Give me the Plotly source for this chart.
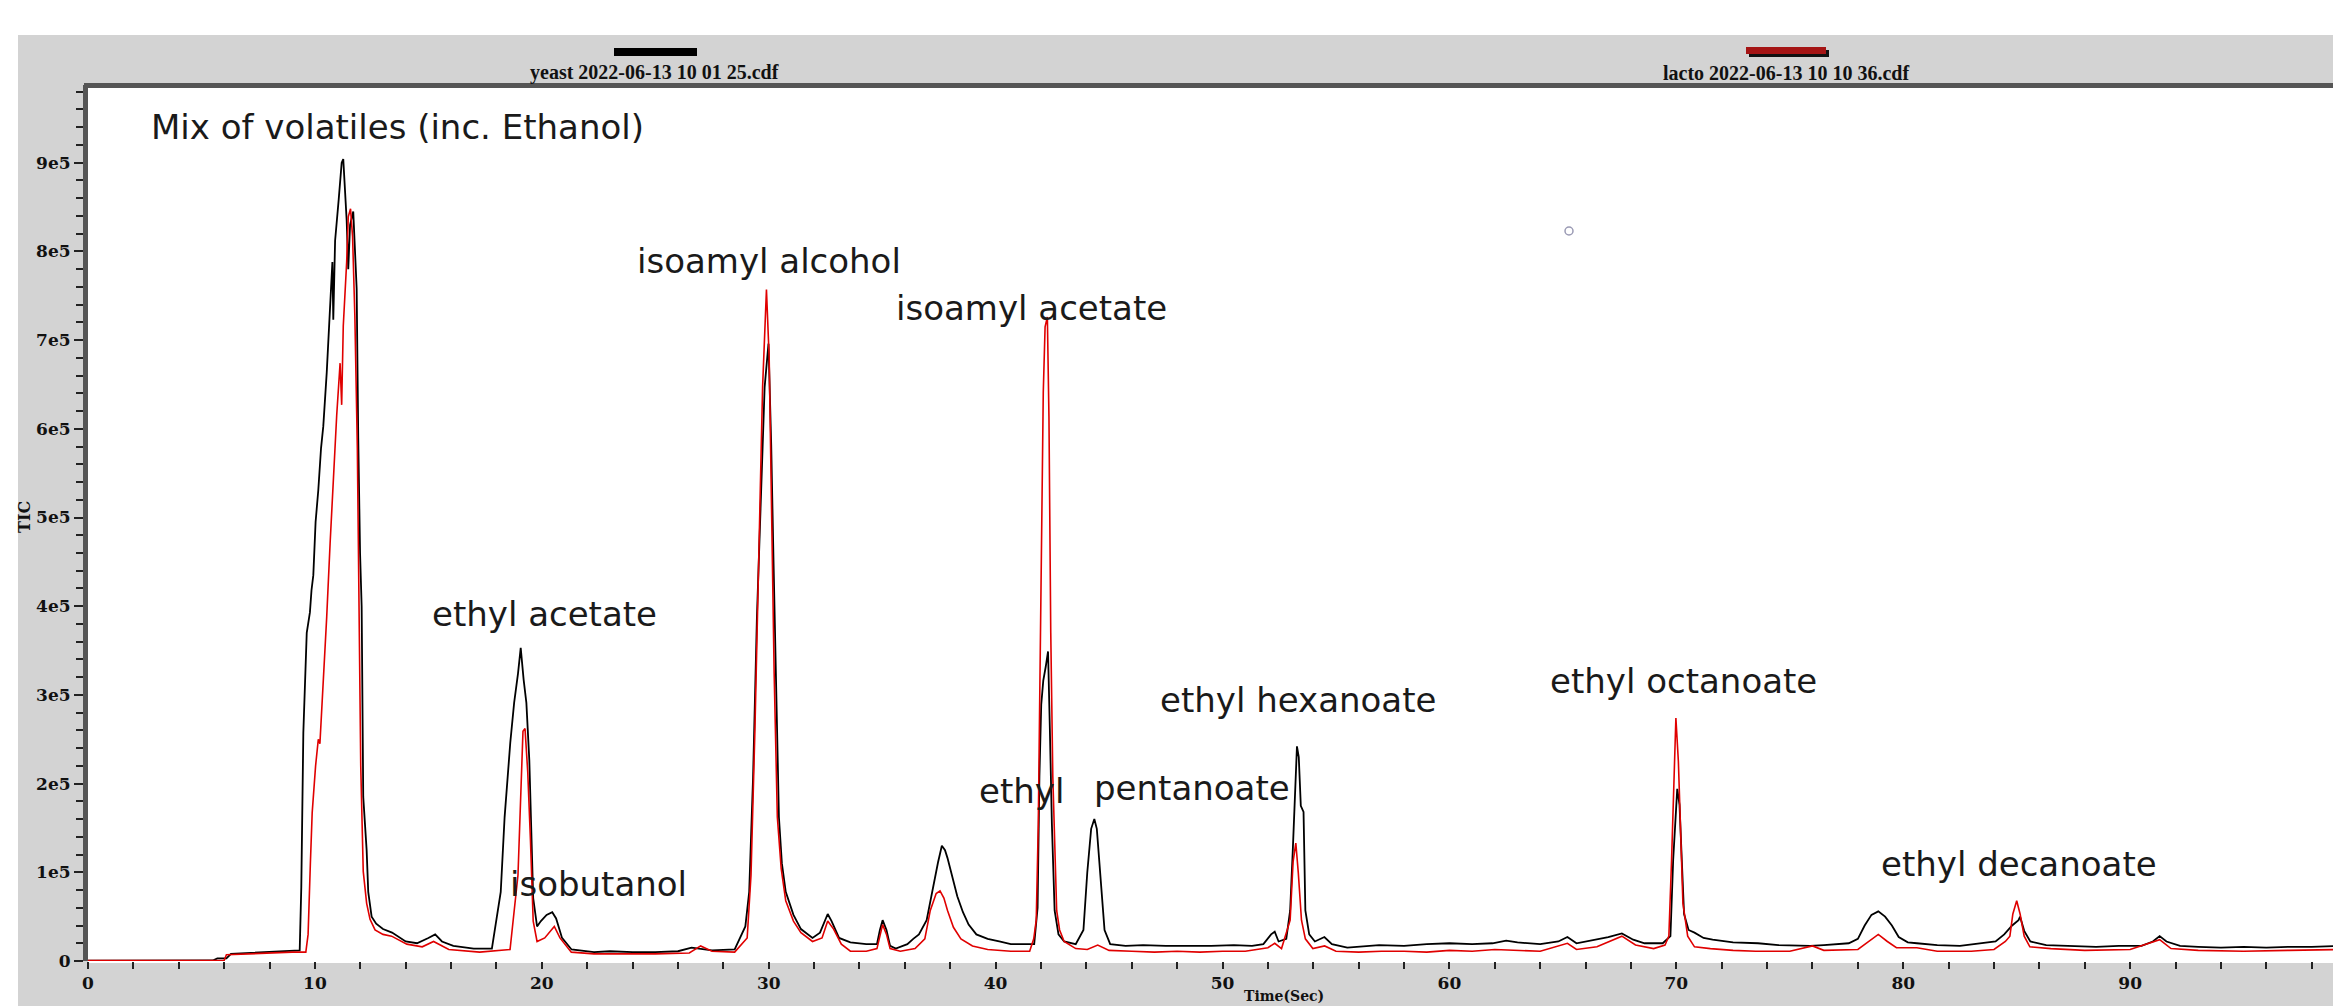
import plotly.graph_objects as go

# ---------------- data ----------------
# time in seconds, TIC intensity in thousands of counts
yeast_t = [0, 1, 2, 3, 4, 5, 5.5, 5.7, 6.1, 6.3, 7, 8, 9, 9.33,
           9.4, 9.49, 9.64, 9.78, 9.85, 9.93, 10.03, 10.15, 10.27, 10.37, 10.52, 10.62, 10.67, 10.77, 10.81,
           10.89, 11.05, 11.18, 11.25, 11.33, 11.40, 11.47, 11.55, 11.69, 11.84, 11.91, 11.99, 12.06, 12.13,
           12.28, 12.35, 12.5, 12.7, 13.0, 13.4, 14.0, 14.5, 15.0, 15.3, 15.6, 16.1, 17.0, 17.8,
           18.19, 18.36, 18.61, 18.78, 18.95, 19.07, 19.20, 19.32, 19.45, 19.54, 19.62, 19.79, 19.96, 20.21,
           20.46, 20.63, 20.89, 21.31, 22.3, 23, 24, 25, 26, 26.6, 27, 27.5, 28.5, 28.97, 29.14, 29.31,
           29.48, 29.65, 29.82, 29.99, 30.11, 30.21, 30.33, 30.45, 30.58, 30.75, 31.09, 31.42, 31.93, 32.26,
           32.6, 32.77, 33.1, 33.6, 34.3, 34.77, 34.9, 35.02, 35.19, 35.35, 35.6, 36.11, 36.37, 36.62,
           36.96, 37.12, 37.29, 37.46, 37.63, 37.77, 37.88, 38.05, 38.31, 38.56, 38.81, 39.15, 39.65, 40.16,
           40.67, 41.34, 41.7, 41.85, 41.93, 42.01, 42.10, 42.21, 42.31, 42.39, 42.48, 42.60, 42.77, 43.02,
           43.53, 43.87, 44.04, 44.21, 44.35, 44.46, 44.63, 44.80, 45.05, 45.73, 46.5, 47.5, 48.5, 49.5,
           50.5, 51.3, 51.8, 52.14, 52.3, 52.47, 52.81, 52.98, 53.1, 53.2, 53.28, 53.36, 53.45, 53.57,
           53.65, 53.82, 54.07, 54.49, 54.82, 55.5, 56.9, 58, 59, 60, 61, 61.9, 62.5, 63, 64, 64.8, 65.2,
           65.6, 66.2, 67, 67.6, 68.1, 68.6, 69.4, 69.74, 69.86, 70.04, 70.14, 70.24, 70.34, 70.54, 70.8,
           71.2, 71.6, 72.5, 73.6, 74.5, 75.9, 76.5, 77.6, 78.0, 78.3, 78.6, 78.9, 79.2, 79.5, 79.8, 80.2,
           80.6, 81.5, 82.5, 83.6, 84.07, 84.45, 84.8, 85.08, 85.15, 85.33, 85.6, 86.3, 87.5, 88.5, 89.5,
           90.5, 91.0, 91.3, 91.6, 92.2, 93, 94, 95, 96, 97, 98, 99.2]
yeast_k = [0.5, 0.5, 0.3, 0.5, 0.4, 0.5, 0.6, 3, 3, 8, 9, 10, 11, 12,
           83, 257, 370, 393, 418, 435, 495, 531, 578, 603, 663, 710, 740, 788, 723,
           812, 859, 900, 904, 865, 835, 780, 830, 845, 758, 590, 460, 400, 185,
           125, 78, 50, 42, 36, 32, 22, 20, 26, 30, 22, 17, 14, 14,
           78, 162, 246, 291, 324, 353, 317, 291, 226, 149, 71, 39, 45, 52,
           55, 48, 26, 13, 10, 11, 10, 10, 11, 15, 14, 12, 13, 39, 78, 207,
           388, 530, 647, 696, 582, 453, 291, 162, 110, 78, 52, 36, 26, 32,
           53, 45, 26, 21, 19, 19, 35, 46, 35, 17, 14, 19, 25, 30,
           46, 68, 90, 111, 130, 125, 116, 100, 73, 55, 41, 30, 25, 22,
           19, 19, 19, 60, 208, 289, 316, 332, 349, 262, 154, 57, 30, 22,
           19, 35, 100, 149, 160, 149, 90, 35, 19, 17, 18, 17, 17, 17,
           18, 17, 19, 30, 33, 22, 25, 57, 127, 200, 242, 230, 175, 168,
           57, 30, 22, 27, 19, 15, 18, 17, 19, 20, 19, 20, 23, 21, 19, 22, 27,
           20, 23, 27, 31, 24, 20, 20, 28, 114, 194, 176, 114, 53, 35, 32,
           26, 24, 21, 20, 18, 17, 18, 20, 25, 40, 52, 56, 50, 40, 27, 21,
           20, 18, 17, 20, 22, 30, 40, 46, 50, 34, 22, 18, 17, 16, 17,
           17, 22, 28, 22, 17, 16, 15, 16, 15, 16, 16, 17]

lacto_t = [0, 1, 2, 3, 4, 5, 6.0, 6.1, 7, 8, 9, 9.6,
           9.7, 9.8, 9.88, 10.03, 10.15, 10.22, 10.37, 10.52, 10.67, 10.81, 10.96, 11.11, 11.18, 11.25,
           11.40, 11.47, 11.57, 11.66, 11.76, 11.87, 11.95, 12.02, 12.13, 12.28, 12.43, 12.65, 13.0, 13.38,
           14.05, 14.73, 15.23, 15.9, 17.26, 18.6, 18.95, 19.09, 19.17, 19.26, 19.38, 19.50, 19.62, 19.79,
           20.13, 20.55, 20.8, 21.3, 22.3, 23.5, 25, 26.5, 27, 27.5, 28.5, 29.05, 29.22, 29.39, 29.56,
           29.73, 29.90, 30.02, 30.12, 30.24, 30.38, 30.55, 30.75, 31.09, 31.42, 31.93, 32.35, 32.6, 32.86,
           33.2, 33.6, 34.3, 34.77, 35.02, 35.19, 35.35, 35.8, 36.45, 36.88, 37.12, 37.38, 37.55, 37.72,
           37.88, 38.14, 38.47, 38.98, 39.65, 40.67, 41.5, 41.68, 41.79, 41.88, 41.96, 42.01, 42.10, 42.18,
           42.28, 42.35, 42.43, 42.52, 42.60, 42.69, 42.82, 43.02, 43.53, 44.04, 44.5, 45, 46, 47, 48, 49,
           50, 51, 52, 52.3, 52.6, 52.98, 53.11, 53.23, 53.34, 53.48, 53.65, 53.98, 54.5, 55, 56, 57, 58,
           59, 60, 61, 62, 63, 64, 65.2, 65.6, 66.5, 67.6, 68.2, 69, 69.5, 69.67, 69.79, 69.92, 69.98,
           70.09, 70.19, 70.29, 70.5, 70.8, 71.5, 72.5, 73.5, 75, 76, 76.5, 78, 78.5, 78.9, 79.3, 79.7,
           80.6, 81.5, 83, 84, 84.5, 84.7, 84.83, 85.0, 85.15, 85.33, 85.58, 86.5, 88, 90, 91.3, 91.8,
           93, 95, 97, 99.2]
lacto_k = [0.5, 0.5, 0.5, 0.5, 0.5, 0.5, 0.6, 7, 8, 9, 10, 10,
           30, 110, 167, 220, 250, 245, 310, 388, 471, 543, 615, 674, 627, 716,
           788, 839, 848, 817, 728, 578, 400, 220, 101, 65, 47, 35, 30, 28,
           19, 16, 22, 13, 10, 13, 97, 194, 259, 262, 213, 136, 45, 22,
           26, 39, 26, 10, 8, 8, 8, 9, 17, 11, 10, 26, 97, 259, 453,
           647, 757, 680, 518, 324, 162, 104, 68, 45, 32, 22, 26, 45, 36,
           19, 11, 11, 14, 41, 30, 14, 11, 14, 25, 57, 76, 79, 71,
           57, 38, 25, 17, 13, 11, 11, 25, 46, 154, 316, 403, 641, 715,
           726, 614, 370, 208, 127, 57, 35, 22, 14, 13, 18, 12, 11, 10, 11, 10,
           11, 11, 15, 20, 14, 46, 112, 133, 99, 46, 25, 14, 17, 11, 10, 11, 11,
           10, 12, 11, 13, 12, 11, 20, 13, 16, 28, 18, 14, 18, 28, 114, 238, 274,
           225, 145, 65, 28, 16, 14, 12, 11, 11, 17, 12, 13, 22, 30, 22, 15,
           15, 11, 11, 13, 22, 28, 53, 68, 53, 28, 16, 14, 12, 13, 24, 14,
           12, 11, 12, 13]

series_names = ["yeast 2022-06-13 10 01 25.cdf", "lacto 2022-06-13 10 10 36.cdf"]
series_colors = ["#000000", "#e00000"]

y_tick_vals = [0, 100000, 200000, 300000, 400000, 500000, 600000, 700000, 800000, 900000]
y_tick_text = ["0", "1e5", "2e5", "3e5", "4e5", "5e5", "6e5", "7e5", "8e5", "9e5"]
x_tick_vals = [0, 10, 20, 30, 40, 50, 60, 70, 80, 90]
x_tick_text = ["0", "10", "20", "30", "40", "50", "60", "70", "80", "90"]

# peak labels: text, time (s), intensity (counts)
label_text = ["isoamyl alcohol", "isoamyl acetate", "ethyl acetate", "isobutanol", "ethyl",
              "pentanoate", "ethyl hexanoate", "ethyl octanoate", "ethyl decanoate"]
label_time = [30.0, 41.56, 20.14, 22.48, 41.16, 48.66, 53.33, 70.30, 85.10]
label_tic = [789000, 736000, 391000, 87000, 192000, 195000, 294000, 316000, 109000]

# ---------------- layout geometry ----------------
# the page body adds an 8 px margin, so the figure is 8 px smaller than the window
OFF = 8
WIN_W, WIN_H = 2341, 1006
W, H = WIN_W - OFF, WIN_H - OFF
PLOT_X0, PLOT_X1, PLOT_Y0, PLOT_Y1 = 88, 2338, 85, 961   # window pixels
L, R, T, B = PLOT_X0 - OFF, WIN_W - PLOT_X1, PLOT_Y0 - OFF, WIN_H - PLOT_Y1
PW, PH = W - L - R, H - T - B
X_MAX = 99.16
Y_MAX = 987600


def px(x):
    return (x - PLOT_X0) / PW


def py(y):
    return (PLOT_Y1 - y) / PH


fig = go.Figure()
fig.add_trace(go.Scatter(x=yeast_t, y=[v * 1000 for v in yeast_k], mode="lines",
                         name=series_names[0], line=dict(color=series_colors[0], width=1.8)))
fig.add_trace(go.Scatter(x=lacto_t, y=[v * 1000 for v in lacto_k], mode="lines",
                         name=series_names[1], line=dict(color=series_colors[1], width=1.6)))

shapes = [
    # grey window background and white plotting area
    dict(type="rect", xref="paper", yref="paper", x0=px(18), x1=px(WIN_W + 10), y0=py(WIN_H + 10), y1=py(35),
         fillcolor="#d3d3d3", line=dict(width=0), layer="below"),
    dict(type="rect", xref="paper", yref="paper", x0=px(PLOT_X0), x1=px(PLOT_X1), y0=py(963), y1=py(PLOT_Y0),
         fillcolor="#ffffff", line=dict(width=0), layer="below"),
    # dark frame on top
    dict(type="line", xref="paper", yref="paper", x0=px(84), x1=px(WIN_W + 5), y0=py(85.5), y1=py(85.5),
         line=dict(color="#555555", width=5)),
    # legend swatches
    dict(type="rect", xref="paper", yref="paper", x0=px(614), x1=px(697), y0=py(56), y1=py(48),
         fillcolor="#000000", line=dict(width=0)),
    dict(type="rect", xref="paper", yref="paper", x0=px(1749), x1=px(1829), y0=py(57), y1=py(50),
         fillcolor="#111111", line=dict(width=0)),
    dict(type="rect", xref="paper", yref="paper", x0=px(1746), x1=px(1826), y0=py(54), y1=py(47),
         fillcolor="#a51515", line=dict(width=0)),
    # small cursor circle
    dict(type="circle", xref="paper", yref="paper", x0=px(1565), x1=px(1573), y0=py(235), y1=py(227),
         line=dict(color="#9a9ab4", width=1.5)),
]

annotations = []
annotations.append(dict(text="<b>%s</b>" % series_names[0], xref="paper", yref="paper", x=px(654), y=py(73),
                        showarrow=False, font=dict(family="Liberation Serif", size=20, color="#111111"),
                        xanchor="center", yanchor="middle"))
annotations.append(dict(text="<b>%s</b>" % series_names[1], xref="paper", yref="paper", x=px(1786), y=py(73),
                        showarrow=False, font=dict(family="Liberation Serif", size=20, color="#111111"),
                        xanchor="center", yanchor="middle"))
annotations.append(dict(text="Mix of volatiles (inc. Ethanol)", xref="paper", yref="paper",
                        x=px(149), y=py(127), showarrow=False, xanchor="left", yanchor="middle",
                        font=dict(family="DejaVu Sans", size=34, color="#1a1a1a")))
for txt, t, v in zip(label_text, label_time, label_tic):
    a = dict(text=txt, x=t, y=v, xref="x", yref="y", showarrow=False, xanchor="center",
             yanchor="middle", font=dict(family="DejaVu Sans", size=34, color="#1a1a1a"))
    if txt == "pentanoate":
        a["bgcolor"] = "#ffffff"
        a["borderpad"] = 0
    annotations.append(a)
annotations.append(dict(text="<b>Time(Sec)</b>", xref="paper", yref="paper", x=px(1284), y=py(1005),
                        showarrow=False, xanchor="center", yanchor="bottom", borderpad=0,
                        font=dict(family="DejaVu Serif", size=14, color="#111111")))
annotations.append(dict(text="<b>TIC</b>", xref="paper", yref="paper", x=px(24), y=py(517),
                        showarrow=False, xanchor="center", yanchor="middle", textangle=-90,
                        font=dict(family="DejaVu Serif", size=16, color="#111111")))

tick_font = dict(family="DejaVu Serif", size=17, color="#111111")
fig.update_layout(
    width=W, height=H,
    margin=dict(l=L, r=R, t=T, b=B, pad=0),
    paper_bgcolor="#ffffff", plot_bgcolor="#ffffff",
    showlegend=False,
    shapes=shapes, annotations=annotations,
    xaxis=dict(range=[0, X_MAX], tickvals=x_tick_vals, ticktext=["<b>%s</b>" % s for s in x_tick_text],
               ticks="outside", ticklen=7, tickwidth=2, tickcolor="#222222",
               showgrid=False, zeroline=False, showline=False, tickfont=tick_font,
               minor=dict(dtick=2, ticks="outside", ticklen=7, tickwidth=2, tickcolor="#222222", showgrid=False)),
    yaxis=dict(range=[0, Y_MAX], tickvals=y_tick_vals, ticktext=["<b>%s</b>" % s for s in y_tick_text],
               ticks="outside", ticklen=9, tickwidth=2, tickcolor="#222222",
               showgrid=False, zeroline=False, showline=True, linewidth=5, linecolor="#555555",
               tickfont=tick_font,
               minor=dict(dtick=20000, ticks="outside", ticklen=7, tickwidth=2, tickcolor="#222222", showgrid=False)),
)

fig.write_html("out.html", config={"displayModeBar": False})
